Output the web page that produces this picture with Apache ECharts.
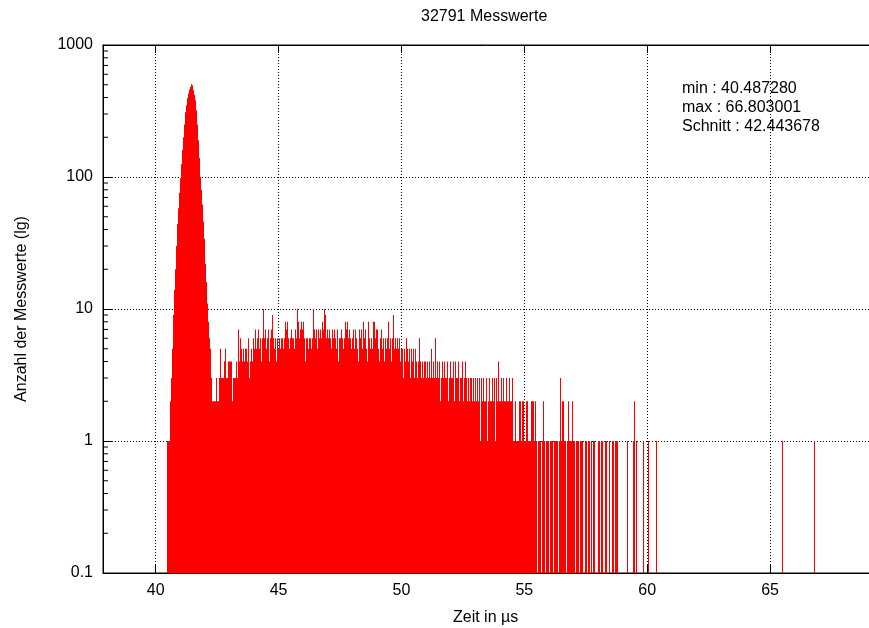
<!DOCTYPE html>
<html>
<head>
<meta charset="utf-8">
<script src="https://cdn.jsdelivr.net/npm/echarts@6/dist/echarts.min.js"></script>
<style>
html, body { margin: 0; padding: 0; background: #fff; }
#cht { width: 869px; height: 628px; }
</style>
</head>
<body>
<div id="cht"></div>
<script>
// histogram bins, 0.04 us wide, counts
var BIN_WIDTH = 0.04;

var peakStart = 40.48;
var peakCounts = [1, 1, 1, 2, 3, 5, 9, 14, 20, 30, 44, 58, 76, 98, 125, 160, 200, 250, 310, 350,
    395, 430, 460, 480, 505, 495, 455, 420, 380, 320, 250, 190, 140, 100, 80, 62, 46, 34, 22, 16,
    11, 8, 6, 5, 3, 2, 2, 2];

var bodyStart = 42.40;
var bodyCounts = [2, 3, 2, 2, 3, 5, 3, 3, 3, 4,
    4, 5, 3, 3, 4, 4, 4, 4, 2, 3,
    3, 3, 4, 3, 7, 4, 6, 5, 4, 5,
    4, 5, 5, 4, 6, 3, 4, 5, 4, 6,
    5, 7, 5, 6, 7, 5, 6, 4, 6, 10,
    6, 7, 5, 6, 7, 4, 6, 7, 9, 6,
    5, 6, 4, 6, 5, 6, 5, 6, 4, 6,
    5, 6, 8, 7, 8, 6, 5, 6, 7, 6,
    6, 5, 7, 6, 10, 8, 6, 7, 8, 7,
    8, 6, 4, 6, 6, 5, 6, 6, 5, 6,
    10, 7, 6, 7, 5, 7, 6, 7, 6, 8,
    7, 10, 9, 6, 7, 6, 7, 6, 5, 7,
    6, 7, 6, 5, 7, 4, 6, 5, 6, 7,
    6, 5, 6, 8, 7, 8, 6, 7, 6, 5];

var slopeStart = 48.00;
var slopeCounts = [6, 7, 5, 7, 6, 5, 4, 7, 6, 7,
    5, 8, 6, 7, 5, 4, 8, 6, 5, 6,
    5, 8, 8, 6, 7, 7, 5, 4, 6, 7,
    5, 6, 4, 6, 5, 6, 8, 5, 6, 4,
    6, 9, 5, 6, 5, 4, 6, 5, 6, 4,
    5, 5, 3, 5, 4, 6, 5, 4, 5, 3,
    5, 4, 5, 3, 5, 4, 3, 4, 6, 4,
    3, 4, 3, 4, 4, 3, 4, 3, 4, 3,
    5, 3, 4, 3, 6, 3, 4, 3, 4, 2,
    3, 4, 3, 4, 3, 3, 4, 2, 3, 4,
    3, 3, 4, 2, 3, 4, 3, 3, 4, 2,
    3, 3, 4, 2, 3, 4, 3, 2, 3, 2,
    3, 3, 2, 3, 2, 3, 2, 3, 2, 3,
    1, 3, 2, 3, 2, 2, 3, 1, 2, 3,
    2, 2, 3, 2, 3, 1, 3, 2, 4, 2];

var tailStart = 54.00;
var tailCounts = [2, 3, 2, 3, 2, 2, 3, 2, 2, 3,
    2, 2, 3, 2, 1, 1, 2, 1, 1, 1,
    2, 2, 1, 2, 2, 1, 1, 2, 2, 1,
    1, 1, 2, 2, 2, 1, 2, 1, 0, 1,
    1, 1, 0, 1, 2, 1, 0, 1, 1, 1,
    0, 1, 1, 1, 0, 1, 1, 1, 1, 0,
    1, 3, 1, 2, 2, 1, 1, 0, 1, 2,
    1, 0, 1, 1, 2, 1, 1, 0, 1, 1,
    1, 0, 1, 1, 1, 0, 0, 1, 1, 0,
    1, 1, 0, 1, 0, 1, 1, 0, 0, 0,
    1, 1, 0, 1, 1, 0, 0, 1, 1, 0,
    0, 1, 0, 0, 1, 1, 0, 1, 1, 1,
    0, 0, 0, 0, 0, 0, 0, 0, 0, 1,
    0, 0, 0, 0, 0, 0, 1, 2, 0, 1,
    0, 0, 0, 0, 0, 0, 1, 0, 0, 0,
    0, 1, 0, 0, 0, 0, 0, 0, 0, 1];

var outliers = [[65.50, 1], [66.80, 1]];

var xRange = [37.8557, 69.4346];
var yRange = [0.1, 1000];
var minorSteps = [2, 3, 4, 5, 6, 7, 8, 9];
var decades = [0.1, 1, 10, 100];

var titleText = '32791 Messwerte';
var xName = 'Zeit in \u00b5s';
var yName = 'Anzahl der Messwerte (lg)';
var statsLines = ['min : 40.487280', 'max : 66.803001', 'Schnitt : 42.443678'];

function bins(start, counts) {
    var out = [];
    counts.forEach(function (c, i) {
        if (c > 0) out.push([+(start + i * BIN_WIDTH).toFixed(2), c]);
    });
    return out;
}

var histData = [].concat(
    bins(peakStart, peakCounts),
    bins(bodyStart, bodyCounts),
    bins(slopeStart, slopeCounts),
    bins(tailStart, tailCounts),
    outliers
);

var minorData = [];
decades.forEach(function (d) {
    minorSteps.forEach(function (s) { minorData.push(+(d * s).toPrecision(3)); });
});

var FONT = '"Liberation Sans", Arial, sans-serif';

function renderBin(params, api) {
    var x0 = api.value(0), c = api.value(1);
    var p1 = api.coord([x0, c]);
    var p2 = api.coord([x0 + BIN_WIDTH, c]);
    var base = params.coordSys.y + params.coordSys.height;
    // snap to whole pixels so neighbouring bins don't leave seams
    var left = Math.round(p1[0]);
    var w = Math.max(1, Math.round(p2[0]) - left);
    return {
        type: 'rect',
        shape: { x: left, y: p1[1], width: w, height: base - p1[1] },
        style: { fill: '#ff0000' }
    };
}

function renderMinor(params, api) {
    var p = api.coord([xRange[0], api.value(0)]);
    return {
        type: 'line',
        shape: { x1: p[0], y1: p[1], x2: p[0] + 5, y2: p[1] },
        style: { stroke: '#000', lineWidth: 1 }
    };
}

var config = {
    animation: false,
    textStyle: { fontFamily: FONT, color: '#000' },
    title: [
        { text: titleText, left: 421, top: 8, padding: 0,
          textStyle: { fontSize: 16, fontWeight: 'normal', color: '#000', fontFamily: FONT, lineHeight: 18 } },
        { text: xName, left: 453, top: 609, padding: 0,
          textStyle: { fontSize: 16, fontWeight: 'normal', color: '#000', fontFamily: FONT, lineHeight: 18 } },
        { text: statsLines.join('\n'), left: 682, top: 79, padding: 0,
          textStyle: { fontSize: 16, fontWeight: 'normal', color: '#000', fontFamily: FONT, lineHeight: 19 } }
    ],
    grid: {
        left: 103, top: 45, right: -10, bottom: 55,
        outerBoundsMode: 'none', containLabel: false,
        show: true, borderColor: '#000', borderWidth: 1
    },
    xAxis: [{
        type: 'value',
        min: xRange[0],
        max: xRange[1],
        splitNumber: 6,
        axisLine: { show: true, lineStyle: { color: '#000' } },
        axisTick: { inside: true, length: 8, lineStyle: { color: '#000' } },
        axisLabel: { showMinLabel: false, showMaxLabel: false, fontSize: 16, color: '#000', margin: 10, fontFamily: FONT },
        splitLine: { show: true, lineStyle: { color: '#000', type: [1, 2], width: 1 } }
    }, {
        type: 'value',
        position: 'top',
        min: xRange[0],
        max: xRange[1],
        splitNumber: 6,
        axisLine: { show: true, lineStyle: { color: '#000' } },
        axisTick: { inside: true, length: 8, lineStyle: { color: '#000' } },
        axisLabel: { show: false },
        splitLine: { show: false }
    }],
    yAxis: {
        type: 'log',
        logBase: 10,
        min: yRange[0],
        max: yRange[1],
        name: yName,
        nameLocation: 'middle',
        nameRotate: 90,
        nameGap: 73,
        nameTextStyle: { fontSize: 16, color: '#000', fontFamily: FONT },
        axisLine: { show: true, lineStyle: { color: '#000' } },
        axisTick: { inside: true, length: 9, lineStyle: { color: '#000' } },
        axisLabel: {
            fontSize: 16, color: '#000', margin: 10, fontFamily: FONT,
            formatter: function (v) { return String(+v.toPrecision(6)); }
        },
        splitLine: { show: true, lineStyle: { color: '#000', type: [1, 2], width: 1 } }
    },
    series: [{
        type: 'custom',
        renderItem: renderBin,
        encode: { x: 0, y: 1 },
        data: histData,
        clip: true,
        silent: true
    }, {
        type: 'custom',
        renderItem: renderMinor,
        encode: { y: 0 },
        data: minorData.map(function (v) { return [v]; }),
        silent: true
    }]
};

window.onload = function () {
    var myChart = echarts.init(document.getElementById('cht'), null, { renderer: 'canvas' });
    myChart.setOption(config);
};
</script>
</body>
</html>
